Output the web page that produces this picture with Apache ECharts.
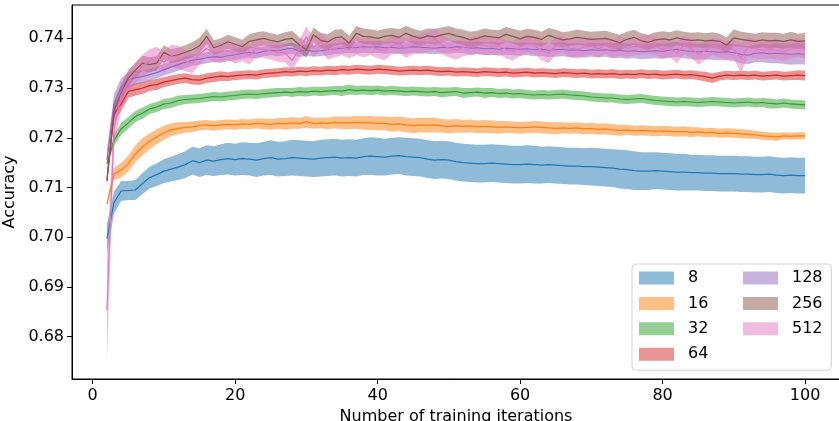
<!DOCTYPE html>
<html><head><meta charset="utf-8">
<script src="https://cdn.jsdelivr.net/npm/echarts@6/dist/echarts.min.js"></script>
<style>html,body{margin:0;padding:0;background:#fff}#c{width:839px;height:421px}</style>
</head><body><div id="c"></div>
<script>
const iterations = [2,3,4,5,6,7,8,9,10,11,12,13,14,15,16,17,18,19,20,21,22,23,24,25,26,27,28,29,30,31,32,33,34,35,36,37,38,39,40,41,42,43,44,45,46,47,48,49,50,51,52,53,54,55,56,57,58,59,60,61,62,63,64,65,66,67,68,69,70,71,72,73,74,75,76,77,78,79,80,81,82,83,84,85,86,87,88,89,90,91,92,93,94,95,96,97,98,99,100];
const seriesNames = ['8','16','32','64','128','256','512'];
const xTicks = [0,20,40,60,80,100];
const yTicks = [0.68,0.69,0.70,0.71,0.72,0.73,0.74];

const mean8 = [0.6997,0.7070,0.7093,0.7094,0.7095,0.7108,0.7120,0.7126,0.7133,0.7137,
0.7141,0.7146,0.7154,0.7150,0.7155,0.7153,0.7156,0.7158,0.7156,0.7158,
0.7157,0.7155,0.7158,0.7160,0.7157,0.7158,0.7160,0.7159,0.7158,0.7157,
0.7159,0.7160,0.7161,0.7159,0.7160,0.7159,0.7162,0.7163,0.7162,0.7161,
0.7163,0.7164,0.7162,0.7161,0.7160,0.7157,0.7155,0.7156,0.7155,0.7152,
0.7150,0.7149,0.7148,0.7148,0.7149,0.7148,0.7147,0.7146,0.7146,0.7147,
0.7146,0.7145,0.7146,0.7145,0.7144,0.7143,0.7143,0.7142,0.7142,0.7141,
0.7140,0.7139,0.7137,0.7136,0.7134,0.7133,0.7133,0.7134,0.7133,0.7132,
0.7131,0.7131,0.7130,0.7130,0.7129,0.7129,0.7128,0.7128,0.7128,0.7127,
0.7127,0.7126,0.7126,0.7127,0.7125,0.7124,0.7125,0.7124,0.7124];
const half8 = [.0030,.0022,.0020,.0019,.0020,.0021,.0022,.0023,.0024,.0025,
.0026,.0027,.0028,.0029,.0030,.0030,.0031,.0032,.0032,.0033,
.0033,.0034,.0034,.0035,.0035,.0035,.0036,.0036,.0036,.0036,
.0037,.0037,.0037,.0037,.0037,.0037,.0037,.0038,.0038,.0037,
.0037,.0037,.0038,.0038,.0038,.0038,.0038,.0038,.0038,.0038,
.0038,.0038,.0038,.0038,.0038,.0038,.0038,.0038,.0038,.0038,
.0038,.0037,.0037,.0037,.0037,.0037,.0037,.0037,.0038,.0038,
.0038,.0038,.0039,.0039,.0039,.0038,.0038,.0037,.0037,.0037,
.0037,.0037,.0036,.0036,.0036,.0036,.0036,.0036,.0036,.0036,
.0036,.0036,.0036,.0036,.0036,.0036,.0036,.0036,.0036];

const mean16 = [0.7067,0.7127,0.7135,0.7148,0.7168,0.7182,0.7193,0.7202,0.7210,0.7216,
0.7219,0.7221,0.7222,0.7225,0.7226,0.7224,0.7226,0.7227,0.7226,0.7228,
0.7227,0.7229,0.7228,0.7227,0.7229,0.7228,0.7230,0.7229,0.7232,0.7229,
0.7230,0.7229,0.7231,0.7230,0.7230,0.7231,0.7230,0.7230,0.7229,0.7229,
0.7227,0.7228,0.7226,0.7224,0.7226,0.7225,0.7226,0.7224,0.7223,0.7224,
0.7223,0.7224,0.7222,0.7223,0.7222,0.7221,0.7222,0.7221,0.7220,0.7221,
0.7222,0.7221,0.7220,0.7219,0.7220,0.7219,0.7220,0.7218,0.7219,0.7217,
0.7218,0.7216,0.7215,0.7216,0.7214,0.7215,0.7214,0.7213,0.7214,0.7213,
0.7212,0.7213,0.7211,0.7212,0.7210,0.7211,0.7209,0.7210,0.7209,0.7208,
0.7207,0.7206,0.7204,0.7203,0.7202,0.7204,0.7203,0.7204,0.7204];
const half16 = [.0004,.0012,.0015,.0016,.0017,.0017,.0016,.0015,.0014,.0013,
.0012,.0011,.0011,.0010,.0010,.0010,.0010,.0010,.0010,.0010,
.0010,.0010,.0011,.0011,.0011,.0012,.0012,.0011,.0012,.0011,
.0011,.0012,.0012,.0013,.0013,.0013,.0014,.0014,.0014,.0014,
.0015,.0015,.0015,.0015,.0015,.0015,.0015,.0014,.0014,.0014,
.0013,.0013,.0013,.0013,.0013,.0013,.0012,.0012,.0012,.0012,
.0012,.0012,.0012,.0012,.0011,.0011,.0011,.0011,.0011,.0011,
.0011,.0011,.0011,.0010,.0010,.0010,.0010,.0010,.0010,.0010,
.0010,.0010,.0010,.0009,.0009,.0009,.0009,.0009,.0009,.0009,
.0009,.0008,.0008,.0008,.0008,.0007,.0007,.0007,.0007];

const mean32 = [0.7148,0.7195,0.7218,0.7230,0.7243,0.7250,0.7258,0.7262,0.7268,0.7270,
0.7275,0.7277,0.7278,0.7279,0.7281,0.7283,0.7282,0.7284,0.7285,0.7287,
0.7288,0.7287,0.7289,0.7290,0.7291,0.7292,0.7291,0.7293,0.7292,0.7294,
0.7293,0.7294,0.7295,0.7294,0.7297,0.7295,0.7296,0.7295,0.7296,0.7294,
0.7295,0.7294,0.7293,0.7294,0.7293,0.7292,0.7293,0.7291,0.7292,0.7293,
0.7290,0.7291,0.7292,0.7290,0.7291,0.7289,0.7290,0.7288,0.7289,0.7287,
0.7286,0.7287,0.7286,0.7287,0.7288,0.7286,0.7285,0.7284,0.7282,0.7281,
0.7280,0.7280,0.7278,0.7277,0.7278,0.7279,0.7277,0.7275,0.7274,0.7273,
0.7272,0.7273,0.7272,0.7271,0.7272,0.7273,0.7272,0.7271,0.7270,0.7271,
0.7272,0.7270,0.7271,0.7269,0.7268,0.7270,0.7268,0.7267,0.7266];
const half32 = [.0003,.0011,.0012,.0012,.0011,.0011,.0010,.0010,.0010,.0010,
.0010,.0009,.0009,.0009,.0009,.0009,.0009,.0009,.0009,.0009,
.0009,.0009,.0009,.0009,.0009,.0008,.0009,.0009,.0009,.0009,
.0009,.0009,.0009,.0010,.0010,.0009,.0009,.0009,.0009,.0009,
.0009,.0009,.0009,.0009,.0009,.0009,.0009,.0010,.0009,.0009,
.0010,.0009,.0009,.0010,.0009,.0009,.0009,.0009,.0009,.0009,
.0009,.0009,.0009,.0009,.0009,.0009,.0009,.0009,.0009,.0009,
.0009,.0009,.0009,.0009,.0009,.0009,.0009,.0009,.0009,.0009,
.0009,.0009,.0009,.0009,.0009,.0009,.0009,.0009,.0009,.0009,
.0009,.0009,.0009,.0010,.0009,.0009,.0009,.0009,.0009];

const mean64 = [0.7115,0.7248,0.7268,0.7293,0.7297,0.7300,0.7305,0.7307,0.7312,0.7315,
0.7318,0.7320,0.7317,0.7316,0.7320,0.7322,0.7324,0.7323,0.7325,0.7326,
0.7327,0.7326,0.7329,0.7330,0.7331,0.7333,0.7332,0.7334,0.7333,0.7335,
0.7334,0.7336,0.7335,0.7337,0.7336,0.7338,0.7337,0.7336,0.7338,0.7337,
0.7336,0.7334,0.7335,0.7336,0.7335,0.7336,0.7334,0.7333,0.7334,0.7332,
0.7333,0.7332,0.7331,0.7333,0.7332,0.7331,0.7332,0.7330,0.7331,0.7332,
0.7330,0.7331,0.7330,0.7329,0.7331,0.7330,0.7329,0.7330,0.7328,0.7329,
0.7328,0.7329,0.7327,0.7328,0.7327,0.7329,0.7327,0.7328,0.7326,0.7327,
0.7328,0.7326,0.7327,0.7325,0.7323,0.7320,0.7324,0.7326,0.7325,0.7326,
0.7325,0.7326,0.7324,0.7325,0.7326,0.7324,0.7325,0.7326,0.7325];
const half64 = [.0006,.0016,.0014,.0013,.0012,.0012,.0011,.0011,.0010,.0010,
.0010,.0010,.0010,.0010,.0010,.0010,.0010,.0009,.0009,.0009,
.0009,.0009,.0009,.0009,.0009,.0009,.0009,.0009,.0009,.0009,
.0009,.0009,.0009,.0009,.0009,.0009,.0009,.0009,.0009,.0009,
.0009,.0009,.0009,.0009,.0009,.0009,.0009,.0009,.0009,.0009,
.0009,.0009,.0009,.0009,.0009,.0009,.0009,.0009,.0009,.0009,
.0009,.0009,.0009,.0009,.0009,.0009,.0009,.0009,.0009,.0009,
.0009,.0009,.0009,.0009,.0009,.0009,.0009,.0009,.0009,.0009,
.0009,.0009,.0009,.0009,.0010,.0010,.0009,.0009,.0009,.0009,
.0009,.0009,.0009,.0009,.0009,.0009,.0009,.0010,.0010];

const mean128 = [0.7155,0.7268,0.7302,0.7316,0.7321,0.7323,0.7327,0.7331,0.7337,0.7342,
0.7347,0.7352,0.7356,0.7358,0.7361,0.7363,0.7362,0.7365,0.7367,0.7370,
0.7372,0.7370,0.7374,0.7376,0.7375,0.7378,0.7380,0.7374,0.7376,0.7374,
0.7375,0.7377,0.7379,0.7380,0.7382,0.7381,0.7383,0.7382,0.7383,0.7381,
0.7382,0.7380,0.7381,0.7383,0.7382,0.7381,0.7380,0.7382,0.7381,0.7383,
0.7382,0.7380,0.7381,0.7379,0.7380,0.7378,0.7380,0.7379,0.7378,0.7379,
0.7377,0.7378,0.7376,0.7377,0.7378,0.7376,0.7377,0.7375,0.7377,0.7376,
0.7377,0.7375,0.7376,0.7374,0.7375,0.7373,0.7374,0.7375,0.7374,0.7376,
0.7378,0.7375,0.7374,0.7373,0.7374,0.7373,0.7372,0.7373,0.7371,0.7368,
0.7366,0.7370,0.7371,0.7369,0.7370,0.7369,0.7368,0.7369,0.7368];
const half128 = [.0020,.0020,.0018,.0016,.0014,.0013,.0012,.0012,.0012,.0012,
.0012,.0012,.0011,.0011,.0011,.0011,.0011,.0011,.0011,.0011,
.0011,.0011,.0010,.0010,.0011,.0011,.0011,.0012,.0011,.0011,
.0011,.0011,.0011,.0011,.0011,.0012,.0012,.0012,.0012,.0012,
.0012,.0012,.0012,.0012,.0012,.0012,.0012,.0012,.0012,.0012,
.0012,.0013,.0013,.0013,.0013,.0013,.0013,.0013,.0013,.0013,
.0013,.0013,.0014,.0014,.0014,.0014,.0014,.0014,.0014,.0014,
.0014,.0015,.0015,.0015,.0015,.0015,.0015,.0015,.0015,.0015,
.0015,.0015,.0016,.0016,.0016,.0016,.0016,.0017,.0017,.0018,
.0018,.0018,.0019,.0019,.0020,.0020,.0021,.0021,.0021];

const mean256 = [0.7113,0.7255,0.7290,0.7320,0.7336,0.7350,0.7347,0.7350,0.7372,0.7364,
0.7367,0.7372,0.7377,0.7385,0.7404,0.7381,0.7386,0.7393,0.7388,0.7383,
0.7394,0.7397,0.7400,0.7396,0.7393,0.7398,0.7400,0.7387,0.7377,0.7407,
0.7396,0.7393,0.7401,0.7403,0.7390,0.7410,0.7404,0.7403,0.7400,0.7404,
0.7406,0.7402,0.7410,0.7404,0.7400,0.7405,0.7403,0.7407,0.7410,0.7405,
0.7402,0.7397,0.7400,0.7405,0.7403,0.7401,0.7408,0.7404,0.7399,0.7404,
0.7402,0.7398,0.7406,0.7401,0.7397,0.7399,0.7402,0.7400,0.7398,0.7399,
0.7400,0.7396,0.7391,0.7398,0.7402,0.7395,0.7392,0.7397,0.7399,0.7397,
0.7401,0.7398,0.7396,0.7397,0.7395,0.7396,0.7394,0.7386,0.7401,0.7398,
0.7396,0.7394,0.7397,0.7395,0.7396,0.7394,0.7397,0.7394,0.7395];
const half256 = [.0010,.0018,.0016,.0016,.0015,.0015,.0015,.0014,.0014,.0014,
.0014,.0014,.0015,.0016,.0015,.0015,.0014,.0014,.0014,.0014,
.0014,.0015,.0014,.0014,.0014,.0014,.0015,.0015,.0016,.0015,
.0015,.0015,.0016,.0015,.0015,.0015,.0016,.0015,.0015,.0015,
.0015,.0016,.0015,.0015,.0015,.0015,.0016,.0015,.0015,.0015,
.0015,.0016,.0015,.0015,.0014,.0015,.0015,.0015,.0016,.0015,
.0015,.0015,.0015,.0016,.0015,.0015,.0015,.0015,.0015,.0015,
.0015,.0015,.0016,.0015,.0015,.0015,.0015,.0015,.0015,.0015,
.0015,.0015,.0015,.0015,.0015,.0016,.0015,.0016,.0017,.0015,
.0015,.0015,.0015,.0016,.0015,.0015,.0016,.0015,.0016];

const mean512 = [0.6853,0.7220,0.7285,0.7312,0.7330,0.7345,0.7355,0.7362,0.7352,0.7365,
0.7362,0.7355,0.7350,0.7368,0.7380,0.7370,0.7373,0.7375,0.7368,0.7372,
0.7366,0.7381,0.7378,0.7375,0.7372,0.7370,0.7356,0.7378,0.7403,0.7382,
0.7393,0.7376,0.7380,0.7383,0.7378,0.7385,0.7380,0.7383,0.7378,0.7375,
0.7386,0.7388,0.7380,0.7386,0.7388,0.7392,0.7398,0.7387,0.7380,0.7376,
0.7382,0.7384,0.7387,0.7386,0.7384,0.7385,0.7378,0.7374,0.7383,0.7388,
0.7386,0.7375,0.7370,0.7385,0.7387,0.7380,0.7378,0.7383,0.7384,0.7379,
0.7386,0.7378,0.7385,0.7380,0.7383,0.7385,0.7388,0.7384,0.7378,0.7381,
0.7370,0.7387,0.7380,0.7368,0.7375,0.7384,0.7380,0.7376,0.7378,0.7360,
0.7382,0.7379,0.7376,0.7378,0.7376,0.7373,0.7378,0.7381,0.7378];
const half512 = [.0100,.0040,.0025,.0021,.0021,.0022,.0023,.0021,.0020,.0022,
.0023,.0021,.0020,.0021,.0019,.0018,.0019,.0018,.0019,.0018,
.0019,.0018,.0017,.0018,.0019,.0018,.0020,.0019,.0021,.0019,
.0018,.0019,.0018,.0017,.0018,.0019,.0018,.0017,.0018,.0019,
.0018,.0017,.0019,.0018,.0019,.0020,.0021,.0019,.0018,.0019,
.0018,.0017,.0018,.0019,.0018,.0017,.0018,.0019,.0018,.0017,
.0018,.0019,.0020,.0018,.0017,.0018,.0019,.0018,.0017,.0018,
.0017,.0018,.0019,.0018,.0017,.0018,.0019,.0018,.0019,.0018,
.0020,.0019,.0018,.0021,.0019,.0018,.0019,.0018,.0019,.0029,
.0020,.0019,.0018,.0019,.0018,.0019,.0018,.0019,.0018];

const means = [mean8, mean16, mean32, mean64, mean128, mean256, mean512];
const halves = [half8, half16, half32, half64, half128, half256, half512];
const lineColors = ['#1f77b4','#ff7f0e','#2ca02c','#d62728','#9467bd','#8c564b','#e377c2'];
const fillColors = ['rgba(31,119,180,0.5)','rgba(255,127,14,0.5)','rgba(44,160,44,0.5)','rgba(214,39,40,0.5)','rgba(148,103,189,0.5)','rgba(140,86,75,0.5)','rgba(227,119,194,0.5)'];
const patchColors = ['#8fbbd9','#ffbf86','#95cf95','#eb9293','#c9b3de','#c5aaa5','#f1bbe0'];

const FONT = 'DejaVu Sans';
const series = [];
seriesNames.forEach((nm, k) => {
  const m = means[k], h = halves[k];
  const rows = iterations.map((x, i) => [x, m[i] - h[i], m[i] + h[i]]);
  series.push({
    type: 'custom', name: nm, silent: true, animation: false,
    data: rows, encode: { x: 0, y: [1, 2] },
    itemStyle: { color: patchColors[k] },
    renderItem: function (params, api) {
      if (params.dataIndex !== 0) return null;
      const upper = rows.map(r => api.coord([r[0], r[2]]));
      const lower = rows.map(r => api.coord([r[0], r[1]])).reverse();
      return { type: 'polygon', shape: { points: upper.concat(lower) }, style: { fill: fillColors[k], stroke: null } };
    }
  });
  series.push({
    type: 'line', name: '_m' + nm, silent: true, animation: false,
    data: iterations.map((x, i) => [x, m[i]]),
    symbol: 'none', lineStyle: { color: lineColors[k], width: 1.2 }
  });
});

const legendText = { fontFamily: FONT, fontSize: 16, color: '#000', lineHeight: 16, padding: [0, 0, 0, 9] };
const legendItem = (names) => names.map(n => ({ name: n, icon: 'rect', itemStyle: { color: patchColors[seriesNames.indexOf(n)], borderWidth: 0 } }));

const chart = echarts.init(document.getElementById('c'), null, { renderer: 'canvas' });
chart.setOption({
  animation: false,
  backgroundColor: '#fff',
  grid: { left: 72, right: -1, top: 5, bottom: 42, show: true, borderColor: '#000', borderWidth: 1, containLabel: false, outerBoundsMode: 'none' },
  xAxis: {
    type: 'value', min: -2.9, max: 104.9,
    name: 'Number of training iterations', nameLocation: 'middle', nameGap: 26,
    nameTextStyle: { fontFamily: FONT, fontSize: 16, color: '#000' },
    axisLine: { show: true, onZero: false, lineStyle: { color: '#000', width: 1 } },
    axisTick: { show: true, length: 5, lineStyle: { color: '#000' }, customValues: xTicks },
    axisLabel: { fontFamily: FONT, fontSize: 16, color: '#000', margin: 9, customValues: xTicks },
    splitLine: { show: false }
  },
  yAxis: {
    type: 'value', min: 0.6715, max: 0.7467,
    name: 'Accuracy', nameLocation: 'middle', nameGap: 44, nameRotate: 90,
    nameTextStyle: { fontFamily: FONT, fontSize: 16, color: '#000' },
    axisLine: { show: true, onZero: false, lineStyle: { color: '#000', width: 1 } },
    axisTick: { show: true, length: 5, lineStyle: { color: '#000' }, customValues: yTicks },
    axisLabel: { fontFamily: FONT, fontSize: 16, color: '#000', margin: 8, customValues: yTicks, formatter: v => v.toFixed(2) },
    splitLine: { show: false }
  },
  legend: [
    {
      left: 632, top: 264, orient: 'vertical', selectedMode: false,
      padding: [6, 123, 8, 7], itemGap: 9.4, itemWidth: 35, itemHeight: 13,
      backgroundColor: 'rgba(255,255,255,0.8)', borderColor: '#d3d3d3', borderWidth: 1, borderRadius: 4,
      textStyle: legendText, data: legendItem(['8','16','32','64'])
    },
    {
      left: 743, top: 270, orient: 'vertical', selectedMode: false,
      padding: 0, itemGap: 9.4, itemWidth: 35, itemHeight: 13,
      textStyle: legendText, data: legendItem(['128','256','512'])
    }
  ],
  series: series
});
</script>
</body></html>
